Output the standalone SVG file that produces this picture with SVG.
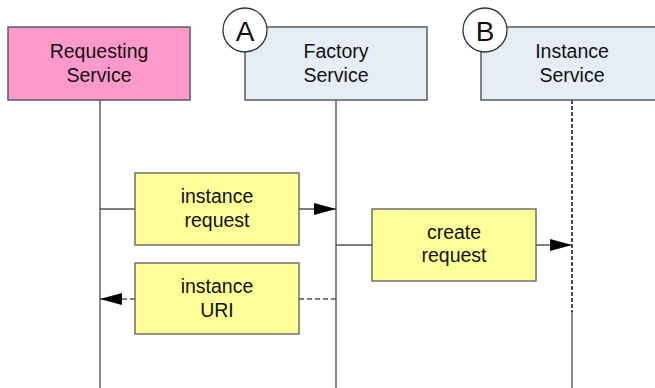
<svg xmlns="http://www.w3.org/2000/svg" width="655" height="388" viewBox="0 0 655 388">
  <style>
    .lbl { font-family: "Liberation Sans", Arial, sans-serif; font-size: 19.5px; fill: #111; text-anchor: middle; }
    .tag { font-family: "Liberation Sans", Arial, sans-serif; font-size: 28px; fill: #111; text-anchor: middle; }
    .svc { stroke: #5a5a5a; stroke-width: 1.5; }
    .msg { fill: #ffff99; stroke: #5a5a5a; stroke-width: 1.3; }
    .life { stroke: #555; stroke-width: 1.4; fill: none; }
    .wire { stroke: #555; stroke-width: 1.4; fill: none; }
    .dash { stroke-dasharray: 5 3; }
  </style>
  <defs>
    <marker id="arrow" viewBox="0 0 22 12" refX="22" refY="6" markerWidth="22" markerHeight="12" markerUnits="userSpaceOnUse" orient="auto">
      <path d="M0,0 L22,6 L0,12 Z" fill="#000"/>
    </marker>
  </defs>

  <rect width="655" height="388" fill="#fff"/>

  <!-- lifelines -->
  <g id="lifelines">
    <line class="life" x1="100" y1="100" x2="100" y2="388"/>
    <line class="life" x1="336" y1="100" x2="336" y2="388"/>
    <line x1="572" y1="100" x2="572" y2="312" stroke="#000" stroke-width="1.4" stroke-dasharray="4 2"/>
    <line class="life" x1="572" y1="312" x2="572" y2="388"/>
  </g>

  <!-- services -->
  <g id="requesting-service">
    <rect class="svc" x="8" y="27" width="182" height="73" fill="#ff99cc"/>
    <text class="lbl" x="99" y="58">Requesting</text>
    <text class="lbl" x="99" y="82">Service</text>
  </g>
  <g id="factory-service">
    <rect class="svc" x="245" y="27" width="182" height="73" fill="#e6edf7"/>
    <text class="lbl" x="336" y="58">Factory</text>
    <text class="lbl" x="336" y="82">Service</text>
    <circle cx="245" cy="30" r="22" fill="#fff" stroke="#333" stroke-width="1.3"/>
    <text class="tag" x="245" y="41">A</text>
  </g>
  <g id="instance-service">
    <rect class="svc" x="481" y="27" width="182" height="73" fill="#e6edf7"/>
    <text class="lbl" x="572" y="58">Instance</text>
    <text class="lbl" x="572" y="82">Service</text>
    <circle cx="485" cy="30" r="22" fill="#fff" stroke="#333" stroke-width="1.3"/>
    <text class="tag" x="485" y="41">B</text>
  </g>

  <!-- connectors -->
  <g id="connectors">
    <line class="wire" x1="100" y1="209" x2="135" y2="209"/>
    <line class="wire" x1="299" y1="209" x2="336" y2="209" marker-end="url(#arrow)"/>
    <line class="wire" x1="336" y1="245" x2="372" y2="245"/>
    <line class="wire" x1="536" y1="245" x2="572" y2="245" marker-end="url(#arrow)"/>
    <line class="wire dash" x1="336" y1="299" x2="299" y2="299"/>
    <line class="wire dash" x1="135" y1="299" x2="100" y2="299" marker-end="url(#arrow)"/>
  </g>

  <!-- messages -->
  <g id="instance-request">
    <rect class="msg" x="135" y="173" width="164" height="72"/>
    <text class="lbl" x="217" y="203">instance</text>
    <text class="lbl" x="217" y="227">request</text>
  </g>
  <g id="create-request">
    <rect class="msg" x="372" y="209" width="164" height="72"/>
    <text class="lbl" x="454" y="239">create</text>
    <text class="lbl" x="454" y="262">request</text>
  </g>
  <g id="instance-uri">
    <rect class="msg" x="135" y="263" width="164" height="71"/>
    <text class="lbl" x="217" y="293">instance</text>
    <text class="lbl" x="217" y="317">URI</text>
  </g>
</svg>
